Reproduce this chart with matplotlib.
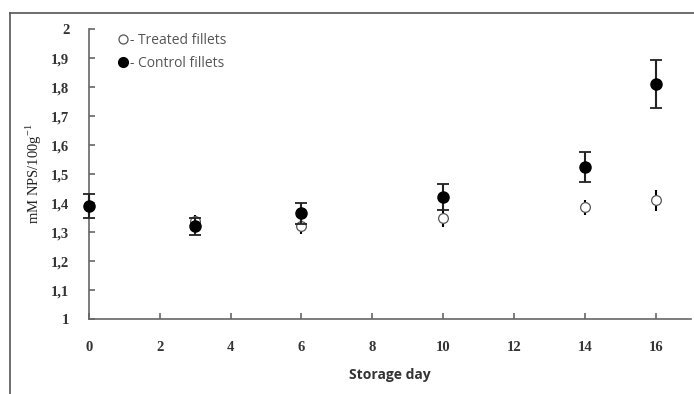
import matplotlib
matplotlib.use("Agg")
import matplotlib.pyplot as plt
from matplotlib.lines import Line2D
from matplotlib.ticker import FuncFormatter

# storage days
days = [0, 3, 6, 10, 14, 16]

# treated fillets (open markers)
treated = [1.39, 1.34, 1.32, 1.35, 1.385, 1.41]
treated_err = [0.03, 0.02, 0.025, 0.033, 0.025, 0.037]

# control fillets (filled markers)
control = [1.39, 1.32, 1.365, 1.42, 1.525, 1.81]
control_err = [0.04, 0.03, 0.037, 0.045, 0.053, 0.083]

y_ticks = [1.0, 1.1, 1.2, 1.3, 1.4, 1.5, 1.6, 1.7, 1.8, 1.9, 2.0]
x_ticks = [0, 2, 4, 6, 8, 10, 12, 14, 16]

fig = plt.figure(figsize=(6.94, 3.94), dpi=100)
ax = fig.add_axes([0.128, 0.19, 0.868, 0.736])

eb1 = ax.errorbar(days, treated, yerr=treated_err, fmt="o", mfc="white", mec="#555555",
                  mew=0.9, ms=7, ecolor="black", elinewidth=1.5, capsize=0, zorder=3)
eb2 = ax.errorbar(days, control, yerr=control_err, fmt="o", mfc="black", mec="black",
                  ms=8, ecolor="#222222", elinewidth=1.5, capsize=4, capthick=1.3, zorder=4)
for eb in (eb1, eb2):
    for art in eb.get_children():
        art.set_clip_on(False)

ax.set_xlim(0, 17)
ax.set_ylim(1, 2)
ax.set_xticks(x_ticks)
ax.set_yticks(y_ticks)
ax.yaxis.set_major_formatter(FuncFormatter(
    lambda v, p: "1" if abs(v - 1) < 1e-9 else ("2" if abs(v - 2) < 1e-9 else f"{v:.1f}".replace(".", ","))))

for s in ["top", "right"]:
    ax.spines[s].set_visible(False)
for s in ["left", "bottom"]:
    ax.spines[s].set_color("#666666")
    ax.spines[s].set_linewidth(1.2)

ax.tick_params(direction="in", length=4, color="#666666", width=1.2,
               labelsize=10.5, labelcolor="#333333")
ax.tick_params(axis="x", pad=16)
ax.tick_params(axis="y", pad=14)
for lab in ax.get_xticklabels() + ax.get_yticklabels():
    lab.set_family("Liberation Serif")
    lab.set_fontweight("bold")

ax.set_xlabel("Storage day", family="Open Sans", fontweight="bold", fontsize=10,
              color="#333333", labelpad=10)
ax.set_ylabel("mM NPS/100g$^{\\mathregular{-1}}$", family="Liberation Serif", fontsize=10.5,
              color="#222222", labelpad=5)

handles = [
    Line2D([], [], ls="none", marker="o", mfc="white", mec="#555555", mew=0.9, ms=6.5),
    Line2D([], [], ls="none", marker="o", mfc="black", mec="black", ms=7),
]
leg = ax.legend(handles, ["- Treated fillets", "- Control fillets"], loc="upper left",
                bbox_to_anchor=(0.025, 1.03), frameon=False, handletextpad=0.0,
                handlelength=1.0, labelspacing=0.6, prop={"family": "Open Sans", "size": 10})
for t in leg.get_texts():
    t.set_color("#555555")

# outer frame of the original figure (top and left edges)
fig.add_artist(Line2D([0.0145, 1.0], [0.967, 0.967], transform=fig.transFigure,
                      color="#555555", lw=1.2))
fig.add_artist(Line2D([0.0145, 0.0145], [0.0, 0.967], transform=fig.transFigure,
                      color="#555555", lw=1.2))

fig.savefig("out.png", dpi=100)
